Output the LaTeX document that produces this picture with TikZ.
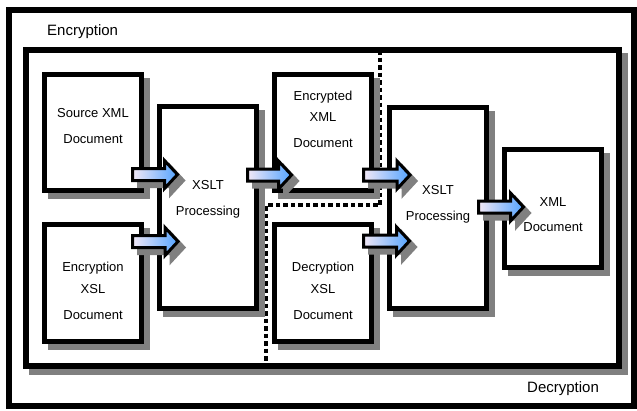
\documentclass[tikz,border=0pt]{standalone}
\usepackage{fontspec}
\setmainfont{Liberation Sans}
\usetikzlibrary{shadows}
\definecolor{shadowgray}{RGB}{128,128,128}
\definecolor{arrowlight}{RGB}{242,232,246}
\definecolor{arrowblue}{RGB}{84,164,255}
\tikzset{
  docbox/.style={rectangle, draw=black, line width=5pt, fill=white, inner sep=0pt,
    minimum width=97pt,
    general shadow={fill=shadowgray, draw=shadowgray, line width=5pt, shadow xshift=6pt, shadow yshift=-6pt}},
  txt/.style={font=\fontsize{13}{15}\selectfont, inner sep=0pt, anchor=base},
  lbl/.style={font=\fontsize{15}{18}\selectfont, inner sep=0pt, anchor=base west},
  frameline/.style={draw=black, line width=6pt},
  dotline/.style={draw=black, line width=4.5pt, dash pattern=on 4.5pt off 3pt},
  blockarrow/.style={draw=black, line width=3pt, line join=miter, left color=arrowlight, right color=arrowblue},
  blockshadow/.style={draw=shadowgray, fill=shadowgray, line width=3pt, line join=miter}
}
\newcommand{\barrow}[3]{%
  \begin{scope}[shift={(6,6)}]
    \path[blockshadow] (#1,#3-6) -- (#2-13,#3-6) -- (#2-13,#3-14) -- (#2,#3) -- (#2-13,#3+14) -- (#2-13,#3+6) -- (#1,#3+6) -- cycle;
  \end{scope}
  \path[blockarrow] (#1,#3-6) -- (#2-13,#3-6) -- (#2-13,#3-14) -- (#2,#3) -- (#2-13,#3+14) -- (#2-13,#3+6) -- (#1,#3+6) -- cycle;
}
\begin{document}
\begin{tikzpicture}[x=1pt,y=-1pt]
\useasboundingbox (0,0) rectangle (637,410);
\fill[white] (0,0) rectangle (637,410);
% outer frame
\draw[frameline] (9,10) rectangle (634,406);
% inner frame with shadow
\fill[shadowgray] (29,53) rectangle (628,375);
\draw[frameline, fill=white] (26,50) rectangle (619,366);
% labels
\node[lbl] (enclbl) at (47,35) {Encryption};
\node[lbl] (declbl) at (527,392.3) {Decryption};
% dotted separator
\draw[dotline] (380,50) -- (380,205) -- (266,205) -- (266,366);
% boxes
\node[docbox, minimum height=116pt] (src) at (93,132.5) {};
\node[docbox, minimum height=202pt] (xa) at (208,207.5) {};
\node[docbox, minimum height=116pt] (enc) at (323,132.5) {};
\node[docbox, minimum height=117pt] (exsl) at (93,283) {};
\node[docbox, minimum height=117pt] (dxsl) at (323,283) {};
\node[docbox, minimum height=201pt] (xb) at (438,208) {};
\node[docbox, minimum height=118pt] (xml) at (553,208.5) {};
% texts
\node[txt] (src1) at (93,117.3) {Source XML};
\node[txt] (src2) at (93,143.3) {Document};
\node[txt] (xa1) at (208,189) {XSLT};
\node[txt] (xa2) at (208,215.7) {Processing};
\node[txt] (enc1) at (323,100) {Encrypted};
\node[txt] (enc2) at (323,121) {XML};
\node[txt] (enc3) at (323,147.3) {Document};
\node[txt] (exsl1) at (93,271.7) {Encryption};
\node[txt] (exsl2) at (93,293.3) {XSL};
\node[txt] (exsl3) at (93,319.3) {Document};
\node[txt] (dxsl1) at (323,271.7) {Decryption};
\node[txt] (dxsl2) at (323,293.3) {XSL};
\node[txt] (dxsl3) at (323,319.3) {Document};
\node[txt] (xb1) at (438,194.3) {XSLT};
\node[txt] (xb2) at (438,220.7) {Processing};
\node[txt] (xml1) at (553,206) {XML};
\node[txt] (xml2) at (553,231.7) {Document};
% block arrows
\barrow{132.5}{177.5}{174.5}
\barrow{132.5}{178}{241.5}
\barrow{247.5}{291.5}{175}
\barrow{363.5}{410}{175}
\barrow{363.5}{409.5}{241}
\barrow{478.5}{523.5}{207}
\end{tikzpicture}
\end{document}
